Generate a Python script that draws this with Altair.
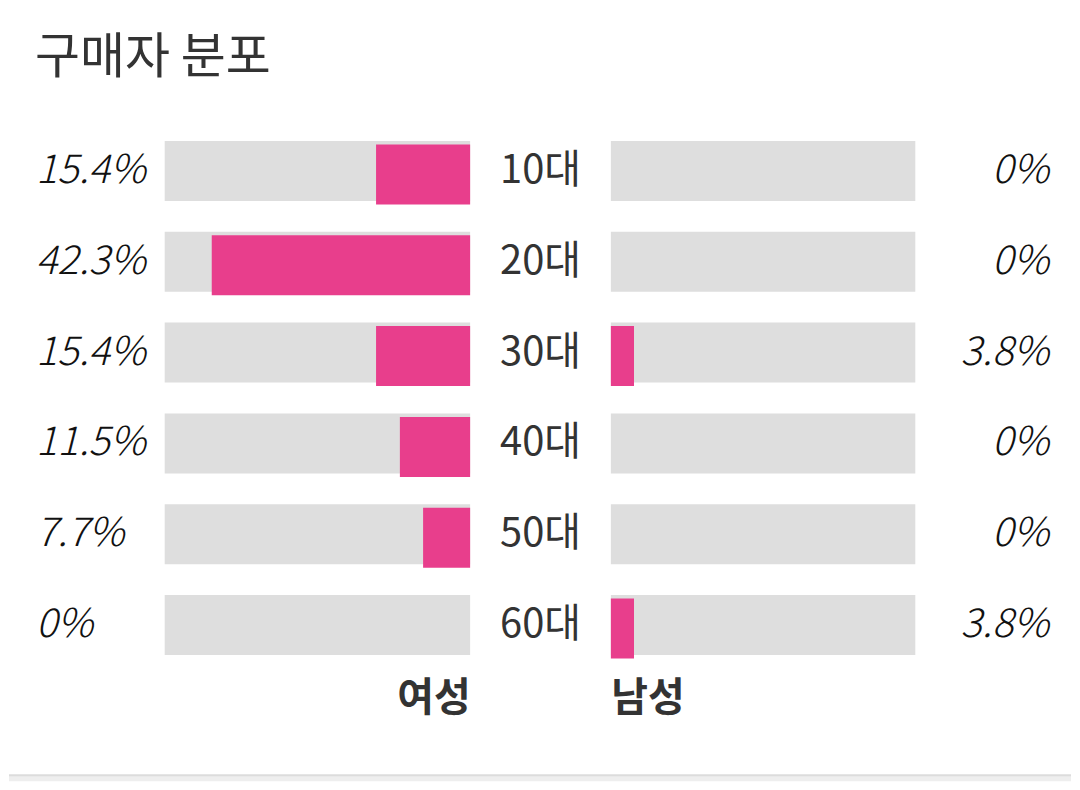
import altair as alt
import pandas as pd

# ---- data ----
ages = ["10대", "20대", "30대", "40대", "50대", "60대"]
female = [15.4, 42.3, 15.4, 11.5, 7.7, 0]
male = [0, 0, 3.8, 0, 0, 3.8]
max_pct = 50
title_text = "구매자 분포"
female_title = "여성"
male_title = "남성"


def fmt(v):
    return f"{v:g}%"


df = pd.DataFrame({
    "age": ages,
    "female": female,
    "male": male,
    "female_label": [fmt(v) for v in female],
    "male_label": [fmt(v) for v in male],
    "full": [max_pct] * len(ages),
})

FONT = "Noto Sans CJK KR"
PINK = "#E83E8C"
GREY = "#DEDEDE"
H = 546

yenc = alt.Y("age:N", sort=ages, axis=None,
             scale=alt.Scale(paddingInner=0.34, paddingOuter=0.17))

base = alt.Chart(df)

pct_style = dict(baseline="middle", font=FONT, fontSize=40, fontStyle="italic",
                 fontWeight=300, color="#111111")

left_labels = base.mark_text(align="left", **pct_style).encode(
    y=yenc, x=alt.value(27), text="female_label:N"
).properties(width=156, height=H)

right_labels = base.mark_text(align="right", **pct_style).encode(
    y=yenc, x=alt.value(134), text="male_label:N"
).properties(width=156, height=H)

age_labels = base.mark_text(align="center", baseline="middle", font=FONT,
                            fontSize=40, fontWeight=400, color="#333333").encode(
    y=yenc, x=alt.value(70.5), text="age:N"
).properties(width=141, height=H)


def side_panel(field, title, reverse, align, width):
    xscale = alt.Scale(domain=[0, max_pct], reverse=reverse)
    axis = alt.Axis(title=title, labels=False, ticks=False, domain=False, grid=False,
                    titleAnchor="start", titleAlign=align,
                    titleFontSize=40, titleFontWeight="bold", titleColor="#333333",
                    titleFont=FONT, titlePadding=8)
    bg = base.mark_bar(color=GREY).encode(
        y=yenc, x=alt.X("full:Q", scale=xscale, axis=axis)
    )
    fg = base.mark_bar(color=PINK, yOffset=3.5).encode(
        y=yenc, x=alt.X(f"{field}:Q", scale=xscale)
    )
    return alt.layer(bg, fg).properties(width=width, height=H)


female_panel = side_panel("female", female_title, True, "right", 306)
male_panel = side_panel("male", male_title, False, "left", 305)

row = alt.hconcat(left_labels, female_panel, age_labels, male_panel, right_labels,
                  spacing=0)

band = alt.Chart(pd.DataFrame({"a": [0]})).mark_rule(color="#dcdcdc", strokeWidth=2).encode(
    y=alt.value(0)
).properties(width=1064, height=6, view=alt.ViewBackground(fill="#eeeeee", stroke=None))

chart = alt.vconcat(row, band, spacing=56).properties(
    title=alt.TitleParams(title_text, anchor="start", dx=27, fontSize=49, font=FONT,
                          fontWeight="normal", color="#333333", offset=43),
    padding={"top": 25, "left": 0, "right": 0, "bottom": 0},
    background="white",
).configure_view(stroke=None)

chart.save("out.html", embed_options={"renderer": "svg", "actions": False})
